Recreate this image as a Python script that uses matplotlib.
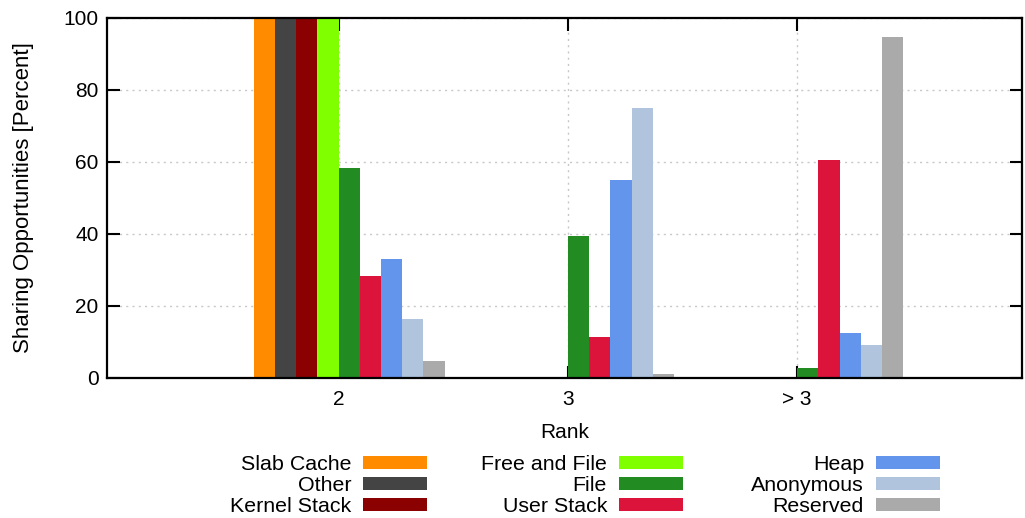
import numpy as np
import matplotlib.pyplot as plt

plt.rcParams['font.family'] = ['Liberation Sans', 'DejaVu Sans']

ranks = ['2', '3', '> 3']
series = ['Slab Cache', 'Other', 'Kernel Stack',
          'Free and File', 'File', 'User Stack',
          'Heap', 'Anonymous', 'Reserved']
slab_cache = [100, 0, 0.2]
other = [100, 0, 0]
kernel_stack = [100, 0, 0]
free_and_file = [100, 0, 0]
file_ = [58.4, 39.4, 2.7]
user_stack = [28.2, 11.5, 60.5]
heap = [33.0, 55.0, 12.4]
anonymous = [16.3, 74.9, 9.1]
reserved = [4.7, 1.0, 94.7]
values = [slab_cache, other, kernel_stack, free_and_file, file_,
          user_stack, heap, anonymous, reserved]
colours = ['#ff8c00', '#444444', '#8b0000', '#7fff00', '#228b22',
           '#dc143c', '#6495ed', '#b0c4de', '#aaaaaa']

W, H = 1025, 518
fig = plt.figure(figsize=(W / 100, H / 100), dpi=100)
ax = fig.add_axes([0.1044, 0.2703, 0.8926, 0.695])

x = np.arange(1, len(ranks) + 1)
width = 0.0925
bars = []
for i, (name, vals, col) in enumerate(zip(series, values, colours)):
    bars.append(ax.bar(x + (i - 3.5) * width, vals, width, color=col,
                       label=name, zorder=2))

ax.set_xlim(-0.01, 3.98)
ax.set_ylim(0, 100)
ax.set_xticks(x)
ax.set_xticklabels(ranks)
ax.set_yticks(np.arange(0, 101, 20))
ax.grid(True, linestyle=(0, (1.5, 3)), color='#c8c8c8', linewidth=1, zorder=0)
ax.set_axisbelow(True)
ax.tick_params(direction='in', length=9, width=1.5, top=True, right=True,
               labelsize=15)
ax.tick_params(axis='y', pad=6)
ax.tick_params(axis='x', pad=9)
for s in ax.spines.values():
    s.set_linewidth(1.6)
    s.set_zorder(3)

ax.set_xlabel('Rank', fontsize=15, labelpad=10)
ax.set_ylabel('Sharing Opportunities [Percent]', fontsize=16, labelpad=21)

# legend: three right-aligned columns, each anchored at its swatch's right end
col_right = [427, 683, 940]
for j, xr in enumerate(col_right):
    fig.legend(bars[3 * j:3 * j + 3], series[3 * j:3 * j + 3],
               loc='upper right', bbox_to_anchor=(xr / W, 1 - 455 / H),
               frameon=False, markerfirst=False, fontsize=15.4,
               borderpad=0, borderaxespad=0,
               handlelength=3.0, handleheight=0.58, handletextpad=0.55,
               labelspacing=0.1)

plt.savefig('out.png', dpi=100)
